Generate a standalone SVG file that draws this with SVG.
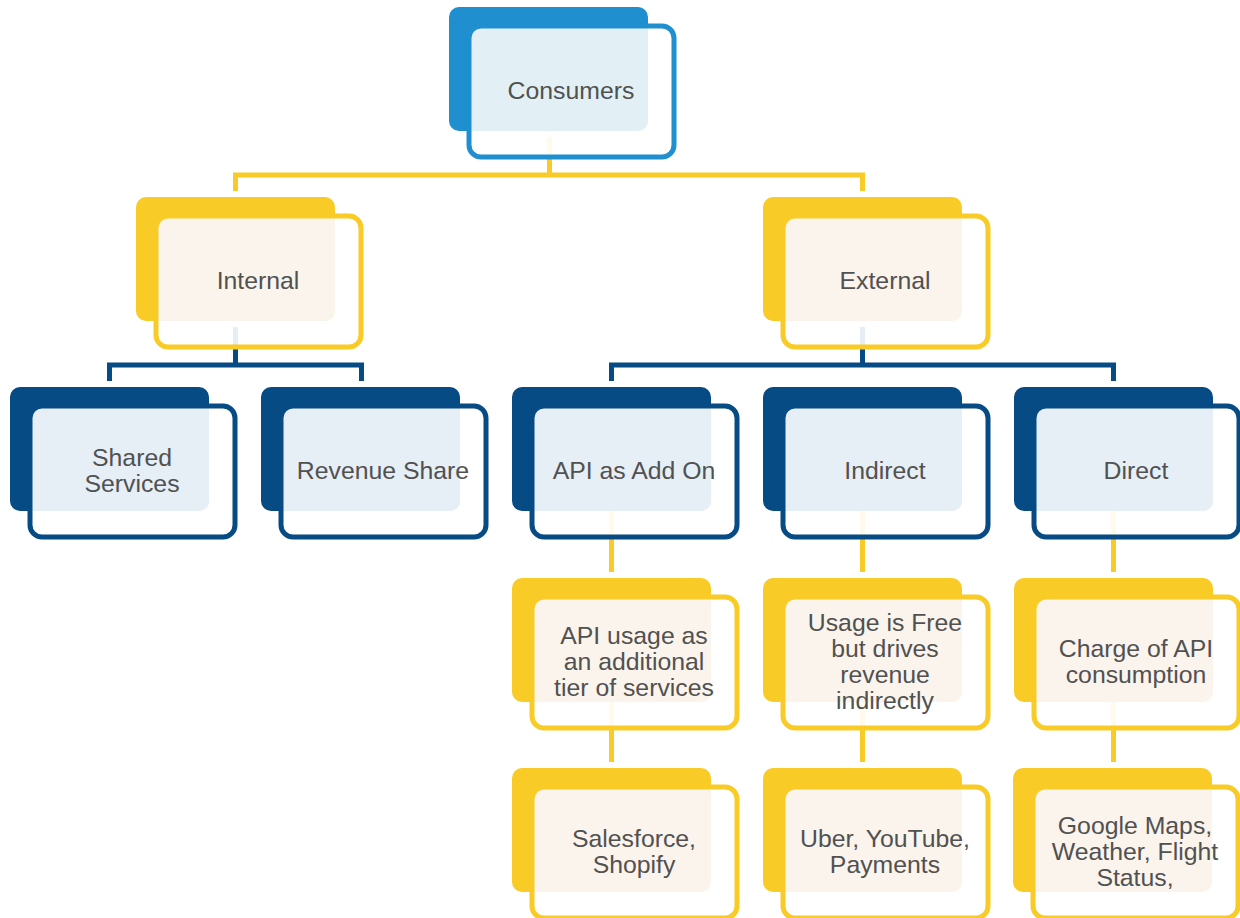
<svg xmlns="http://www.w3.org/2000/svg" width="1240" height="918" viewBox="0 0 1240 918">
<defs>
<clipPath id="clipSh" clipPathUnits="userSpaceOnUse"><rect width="199" height="124" rx="10"/></clipPath>
<style>
.sh{stroke:none}
.bg{fill:#fff;fill-opacity:.9;stroke:none}
.tint{stroke:none}
.ol{fill:none;stroke-width:5}
text{font-family:"Liberation Sans",Arial,sans-serif;font-size:24.8px;fill:#515151;text-anchor:middle}
.top .sh{fill:#1F8FCF}.top .ol{stroke:#1F8FCF}.top .tint{fill:#E2F0F5}
.yel .sh{fill:#F8CB27}.yel .ol{stroke:#F8CB27}.yel .tint{fill:#FBF4EC}
.blu .sh{fill:#074B84}.blu .ol{stroke:#074B84}.blu .tint{fill:#E6EEF6}
.cy{fill:none;stroke:#F8CB27;stroke-width:5}
.cb{fill:none;stroke:#074B84;stroke-width:5}
</style>
</defs>
<g id="connectors">
<path class="cy" d="M549.5 137V175M235.5 191V175H862.5V191"/>
<path class="cb" d="M235.5 327V365M109.5 381V365H361.5V381"/>
<path class="cb" d="M862.5 327V365M611.5 381V365H1113.5V381"/>
<path class="cy" d="M611.5 511V572M862.5 511V572M1113.5 511V572"/>
<path class="cy" d="M611.5 702V762M862.5 702V762M1113.5 702V762"/>
</g>
<g id="n-consumers" class="top" transform="translate(449,7)"><rect class="sh" width="199" height="124" rx="10"/><rect class="bg" x="20" y="19" width="205" height="131" rx="12"/><rect class="tint" x="20" y="19" width="205" height="131" rx="12" clip-path="url(#clipSh)"/><rect class="ol" x="20" y="19" width="205" height="131" rx="12"/><text x="122" y="92">Consumers</text></g>
<g id="n-internal" class="yel" transform="translate(136,197)"><rect class="sh" width="199" height="124" rx="10"/><rect class="bg" x="20" y="19" width="205" height="131" rx="12"/><rect class="tint" x="20" y="19" width="205" height="131" rx="12" clip-path="url(#clipSh)"/><rect class="ol" x="20" y="19" width="205" height="131" rx="12"/><text x="122" y="92">Internal</text></g>
<g id="n-external" class="yel" transform="translate(763,197)"><rect class="sh" width="199" height="124" rx="10"/><rect class="bg" x="20" y="19" width="205" height="131" rx="12"/><rect class="tint" x="20" y="19" width="205" height="131" rx="12" clip-path="url(#clipSh)"/><rect class="ol" x="20" y="19" width="205" height="131" rx="12"/><text x="122" y="92">External</text></g>
<g id="n-shared" class="blu" transform="translate(10,387)"><rect class="sh" width="199" height="124" rx="10"/><rect class="bg" x="20" y="19" width="205" height="131" rx="12"/><rect class="tint" x="20" y="19" width="205" height="131" rx="12" clip-path="url(#clipSh)"/><rect class="ol" x="20" y="19" width="205" height="131" rx="12"/><text x="122" y="79">Shared</text><text x="122" y="105">Services</text></g>
<g id="n-revenue" class="blu" transform="translate(261,387)"><rect class="sh" width="199" height="124" rx="10"/><rect class="bg" x="20" y="19" width="205" height="131" rx="12"/><rect class="tint" x="20" y="19" width="205" height="131" rx="12" clip-path="url(#clipSh)"/><rect class="ol" x="20" y="19" width="205" height="131" rx="12"/><text x="122" y="92">Revenue Share</text></g>
<g id="n-addon" class="blu" transform="translate(512,387)"><rect class="sh" width="199" height="124" rx="10"/><rect class="bg" x="20" y="19" width="205" height="131" rx="12"/><rect class="tint" x="20" y="19" width="205" height="131" rx="12" clip-path="url(#clipSh)"/><rect class="ol" x="20" y="19" width="205" height="131" rx="12"/><text x="122" y="92">API as Add On</text></g>
<g id="n-indirect" class="blu" transform="translate(763,387)"><rect class="sh" width="199" height="124" rx="10"/><rect class="bg" x="20" y="19" width="205" height="131" rx="12"/><rect class="tint" x="20" y="19" width="205" height="131" rx="12" clip-path="url(#clipSh)"/><rect class="ol" x="20" y="19" width="205" height="131" rx="12"/><text x="122" y="92">Indirect</text></g>
<g id="n-direct" class="blu" transform="translate(1014,387)"><rect class="sh" width="199" height="124" rx="10"/><rect class="bg" x="20" y="19" width="205" height="131" rx="12"/><rect class="tint" x="20" y="19" width="205" height="131" rx="12" clip-path="url(#clipSh)"/><rect class="ol" x="20" y="19" width="205" height="131" rx="12"/><text x="122" y="92">Direct</text></g>
<g id="n-addon-desc" class="yel" transform="translate(512,578)"><rect class="sh" width="199" height="124" rx="10"/><rect class="bg" x="20" y="19" width="205" height="131" rx="12"/><rect class="tint" x="20" y="19" width="205" height="131" rx="12" clip-path="url(#clipSh)"/><rect class="ol" x="20" y="19" width="205" height="131" rx="12"/><text x="122" y="66">API usage as</text><text x="122" y="92">an additional</text><text x="122" y="118">tier of services</text></g>
<g id="n-indirect-desc" class="yel" transform="translate(763,578)"><rect class="sh" width="199" height="124" rx="10"/><rect class="bg" x="20" y="19" width="205" height="131" rx="12"/><rect class="tint" x="20" y="19" width="205" height="131" rx="12" clip-path="url(#clipSh)"/><rect class="ol" x="20" y="19" width="205" height="131" rx="12"/><text x="122" y="53">Usage is Free</text><text x="122" y="79">but drives</text><text x="122" y="105">revenue</text><text x="122" y="131">indirectly</text></g>
<g id="n-direct-desc" class="yel" transform="translate(1014,578)"><rect class="sh" width="199" height="124" rx="10"/><rect class="bg" x="20" y="19" width="205" height="131" rx="12"/><rect class="tint" x="20" y="19" width="205" height="131" rx="12" clip-path="url(#clipSh)"/><rect class="ol" x="20" y="19" width="205" height="131" rx="12"/><text x="122" y="79">Charge of API</text><text x="122" y="105">consumption</text></g>
<g id="n-addon-ex" class="yel" transform="translate(512,768)"><rect class="sh" width="199" height="124" rx="10"/><rect class="bg" x="20" y="19" width="205" height="131" rx="12"/><rect class="tint" x="20" y="19" width="205" height="131" rx="12" clip-path="url(#clipSh)"/><rect class="ol" x="20" y="19" width="205" height="131" rx="12"/><text x="122" y="79">Salesforce,</text><text x="122" y="105">Shopify</text></g>
<g id="n-indirect-ex" class="yel" transform="translate(763,768)"><rect class="sh" width="199" height="124" rx="10"/><rect class="bg" x="20" y="19" width="205" height="131" rx="12"/><rect class="tint" x="20" y="19" width="205" height="131" rx="12" clip-path="url(#clipSh)"/><rect class="ol" x="20" y="19" width="205" height="131" rx="12"/><text x="122" y="79">Uber, YouTube,</text><text x="122" y="105">Payments</text></g>
<g id="n-direct-ex" class="yel" transform="translate(1013,768)"><rect class="sh" width="199" height="124" rx="10"/><rect class="bg" x="20" y="19" width="205" height="131" rx="12"/><rect class="tint" x="20" y="19" width="205" height="131" rx="12" clip-path="url(#clipSh)"/><rect class="ol" x="20" y="19" width="205" height="131" rx="12"/><text x="122" y="66">Google Maps,</text><text x="122" y="92">Weather, Flight</text><text x="122" y="118">Status,</text></g>
</svg>
